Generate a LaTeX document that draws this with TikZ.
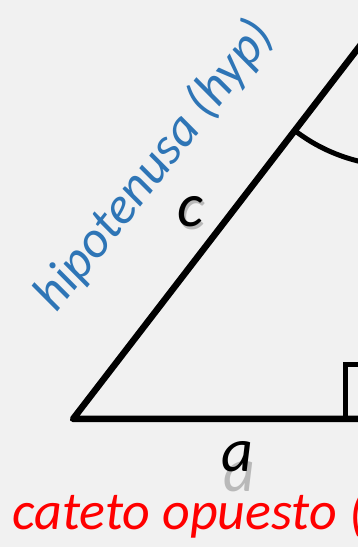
\documentclass[tikz,border=0pt]{standalone}
\usepackage{fontspec}
\setmainfont{Carlito}
\usetikzlibrary{calc}
\definecolor{fondo}{RGB}{241,241,241}
\definecolor{azulhip}{RGB}{46,117,182}

\begin{document}
\begin{tikzpicture}[x=1pt,y=1pt,
  lado/.style={line width=6.5pt,line join=round},
  marca/.style={line width=5pt},
  letra/.style={font=\fontsize{62}{62}\selectfont\itshape},
  sombra/.style={letra,text=black!45,opacity=0.55},
  rotulo/.style={font=\fontsize{52}{52}\selectfont\itshape}]
  \fill[fondo] (0,0) rectangle (358,547);
  \useasboundingbox (0,0) rectangle (358,547);
  \clip (0,0) rectangle (358,547);
  % vertices
  \coordinate (A) at (73,128);
  \coordinate (B) at (399,128);
  \coordinate (C) at (399,552);
  % triangulo
  \draw[lado] (A) -- (B) -- (C) -- cycle;
  % angulo recto en B
  \draw[marca] ($(B)+(-54,0)$) |- ($(B)+(0,54)$);
  % angulo en C
  \draw[marca] ($(C)!171pt!(A)$) arc[start angle=232.45,end angle=270,radius=171];
  % lados
  \node[sombra] (csombra) at (192,332) {c};
  \node[letra] (c) at (190,335) {c};
  \node[sombra] (asombra) at (239,70) {a};
  \node[letra] (a) at (237,90) {a};
  % nombres
  \node[rotulo,text=azulhip,rotate=51.7,anchor=base] (hip) at (166,372) {hipotenusa (hyp)};
  \node[rotulo,text=red,anchor=base west,inner sep=0pt,font=\fontsize{54}{54}\selectfont\itshape] (opuesto) at (12,17) {cateto opuesto (};
\end{tikzpicture}
\end{document}
